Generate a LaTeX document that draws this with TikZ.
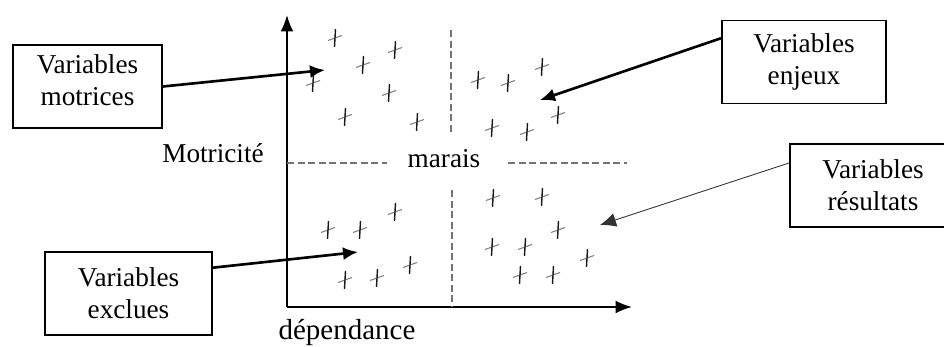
\documentclass[tikz,border=0pt]{standalone}
\usepackage{fontspec}
\setmainfont{Liberation Serif}
\usetikzlibrary{arrows.meta,positioning}
\tikzset{
  boite/.style={draw,line width=1.1pt,align=center,minimum height=1.66cm,inner sep=2pt,
                font=\fontsize{15.5}{18}\selectfont},
  etiquette/.style={anchor=base,inner sep=0pt,font=\fontsize{15.5}{18}\selectfont},
  fleche/.style={-{Latex[length=3mm,width=2.6mm]},line width=1.5pt},
  fine/.style={-{Latex[length=3.2mm,width=2.8mm]},line width=0.5pt,black!80},
  axe/.style={-{Latex[length=3.3mm,width=2.6mm]},line width=1.1pt},
  tirets/.style={black!55,line width=0.8pt,dash pattern=on 4pt off 2pt},
  croix/.pic={
    \draw[black!50,line width=0.6pt] (-7,2.5) -- (7,-2.5);
    \draw[black!90,line width=0.8pt] (0.5,-9) -- (-0.5,9);
  },
}
\begin{document}
\begin{tikzpicture}[x=0.02cm,y=-0.02cm]
  \useasboundingbox (0,0) rectangle (944,347);
  % axes
  \coordinate (origine) at (287,307);
  \coordinate (haut) at (287,15);
  \coordinate (droite) at (632,307);
  \draw[axe] (origine) -- (haut);
  \draw[axe] (origine) -- (droite);
  % quadrants
  \coordinate (v1) at (451,30);  \coordinate (v2) at (451,135);
  \coordinate (v3) at (452,190); \coordinate (v4) at (452,307);
  \coordinate (h1) at (287,163); \coordinate (h2) at (387,163);
  \coordinate (h3) at (508,163); \coordinate (h4) at (627,163);
  \draw[tirets] (v1) -- (v2);
  \draw[tirets] (v3) -- (v4);
  \draw[tirets] (h1) -- (h2);
  \draw[tirets] (h3) -- (h4);
  \node[etiquette] (marais) at (444,168) {marais};
  \node[etiquette] (motricite) at (213,163) {Motricité};
  \node[etiquette,font=\fontsize{16.5}{18}\selectfont] (dependance) at (347,340) {dépendance};
  % variables
  \foreach \p in {(335,38),(395,50),(363,65),(313,83),(389,93),(345,117),(417,122),
                  (478,80),(508,83),(542,67),(492,128),(527,132),(558,115),
                  (328,230),(360,230),(395,212),(345,280),(377,278),(410,265),
                  (493,198),(542,197),(492,247),(525,247),(558,230),(587,258),(520,275),(553,275)}
    \pic at \p {croix};
  % boites
  \node[boite,minimum width=2.98cm,text depth=0.25cm] (motrices) at (87.5,86.5) {Variables\\motrices};
  \node[boite,minimum width=3.28cm] (enjeux) at (804,62) {Variables\\enjeux};
  \node[boite,minimum width=3.32cm] (resultats) at (873,185.5) {Variables\\résultats};
  \node[boite,minimum width=3.34cm] (exclues) at (128.5,293.5) {Variables\\exclues};
  \coordinate (cm) at (325,70);
  \coordinate (ce) at (540,100);
  \coordinate (cr) at (600,225);
  \coordinate (cx) at (358,252);
  \draw[fleche] (motrices.east) -- (cm);
  \draw[fleche] (enjeux.164) -- (ce);
  \draw[fine] (resultats.165) -- (cr);
  \draw[fleche] (exclues.17) -- (cx);
\end{tikzpicture}
\end{document}
